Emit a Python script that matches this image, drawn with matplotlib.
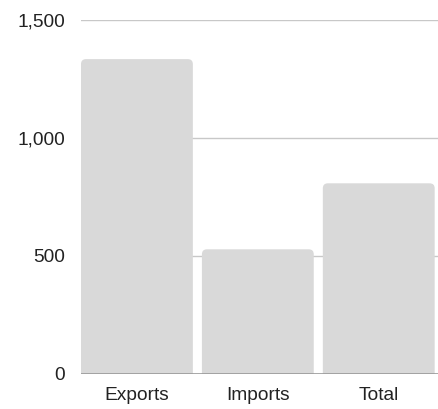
import matplotlib
matplotlib.use("Agg")
import matplotlib.pyplot as plt
from matplotlib.patches import FancyBboxPatch
from matplotlib.ticker import FuncFormatter

plt.rcParams['font.family'] = ['Liberation Sans', 'DejaVu Sans']

# data
categories = ["Exports", "Imports", "Total"]
values = [1334, 527, 807]
yticks = [0, 500, 1000, 1500]

fig = plt.figure(figsize=(4.38, 4.09), dpi=100)
ax = fig.add_axes([81 / 438, (409 - 373.5) / 409, 1 - 81 / 438, (373.5 - 20) / 409])

bar_w = 0.925
ax.set_xlim(-0.4625, 2.49)
ax.set_ylim(0, 1500)

# rounded-top bars: px -> data conversions
px_x = 1 / 121.0
px_y = 1500 / 353.5
r = 5
for i, v in enumerate(values):
    box = FancyBboxPatch((i - bar_w / 2, -40), bar_w, v + 40,
                         boxstyle="round,pad=0,rounding_size=%f" % (r * px_x),
                         mutation_aspect=px_y / px_x,
                         facecolor='#d9d9d9', edgecolor='none', zorder=2)
    ax.add_patch(box)

ax.set_yticks(yticks)
ax.yaxis.set_major_formatter(FuncFormatter(lambda v, p: f"{int(v):,}"))
ax.set_xticks(range(len(categories)))
ax.set_xticklabels(categories)
ax.tick_params(axis='both', length=0, labelsize=13.8, colors='#222222')
ax.tick_params(axis='y', pad=11.5)
ax.tick_params(axis='x', pad=10)

for t in yticks[1:]:
    ax.axhline(t, color='#c8c8c8', lw=1, zorder=1)
ax.axhline(0, color='#999999', lw=1.2, zorder=3)

for s in ax.spines.values():
    s.set_visible(False)

fig.savefig("out.png", dpi=100)
